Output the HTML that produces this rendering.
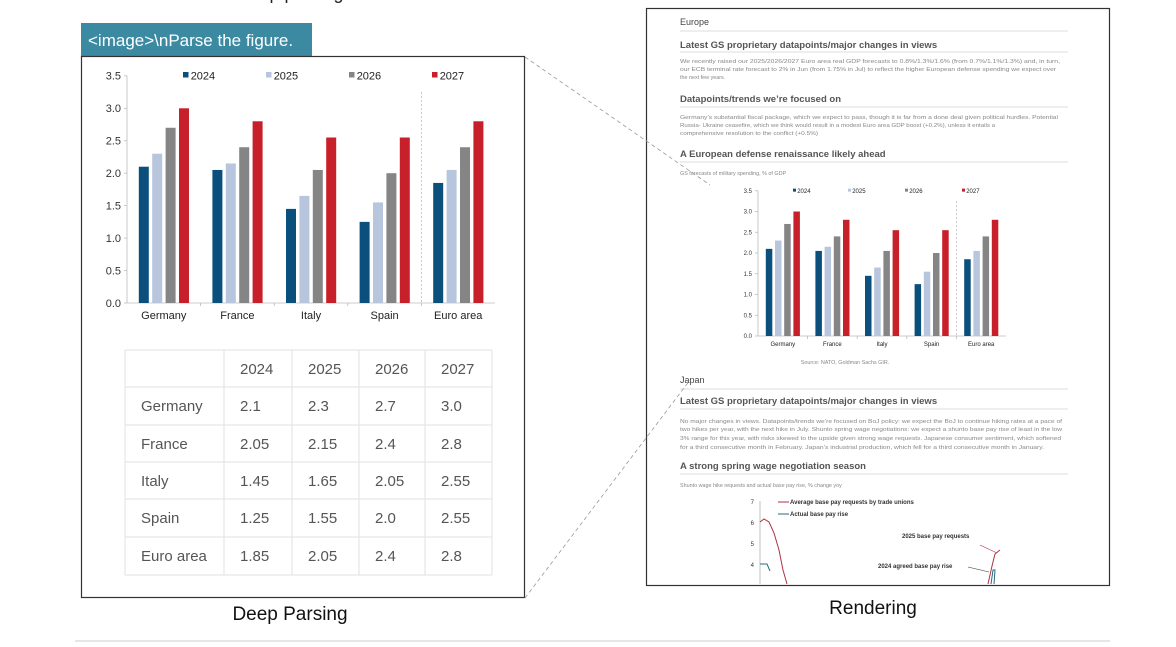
<!DOCTYPE html>
<html><head><meta charset="utf-8"><style>
body{margin:0;width:1176px;height:642px;overflow:hidden;background:#fff;font-family:"Liberation Sans",sans-serif}
svg text{font-family:"Liberation Sans",sans-serif}
</style></head><body>
<svg id="s" width="1176" height="642" viewBox="0 0 1176 642" xmlns="http://www.w3.org/2000/svg">
<text x="290" y="-1" font-size="18" text-anchor="middle" fill="#222">Deep parsing</text>
<rect x="81" y="23" width="231" height="33" fill="#3b8aa2"/>
<text x="88" y="46" font-size="17" fill="#fff">&lt;image&gt;\nParse the figure.</text>
<rect x="81.5" y="56.5" width="443" height="541" fill="#fff" stroke="#333" stroke-width="1.2"/>
<g id="lc"></g>
<g id="tbl" font-size="15" fill="#555"></g>
<text x="290" y="620" font-size="19" text-anchor="middle" fill="#111">Deep Parsing</text>
<rect x="646.5" y="8.5" width="463" height="577" fill="#fff" stroke="#333" stroke-width="1.2"/>
<g fill="#444">
<text x="680" y="25" font-size="9">Europe</text>
<line x1="680" y1="31" x2="1068" y2="31" stroke="#ddd"/>
<text x="680" y="48" font-size="9.5" font-weight="bold" fill="#555">Latest GS proprietary datapoints/major changes in views</text>
<line x1="680" y1="52" x2="1068" y2="52" stroke="#ddd"/>
<g font-size="5.4" fill="#888">
<text x="680" y="63" textLength="380" lengthAdjust="spacingAndGlyphs">We recently raised our 2025/2026/2027 Euro area real GDP forecasts to 0.8%/1.3%/1.6% (from 0.7%/1.1%/1.3%) and, in turn,</text>
<text x="680" y="71" textLength="376" lengthAdjust="spacingAndGlyphs">our ECB terminal rate forecast to 2% in Jun (from 1.75% in Jul) to reflect the higher European defense spending we expect over</text>
<text x="680" y="79">the next few years.</text>
</g>
<text x="680" y="102" font-size="9.5" font-weight="bold" fill="#555">Datapoints/trends we’re focused on</text>
<line x1="680" y1="107" x2="1068" y2="107" stroke="#ddd"/>
<g font-size="5.4" fill="#888">
<text x="680" y="119" textLength="378" lengthAdjust="spacingAndGlyphs">Germany’s substantial fiscal package, which we expect to pass, though it is far from a done deal given political hurdles. Potential</text>
<text x="680" y="127" textLength="315" lengthAdjust="spacingAndGlyphs">Russia- Ukraine ceasefire, which we think would result in a modest Euro area GDP boost (+0.2%), unless it entails a</text>
<text x="680" y="135" textLength="138" lengthAdjust="spacingAndGlyphs">comprehensive resolution to the conflict (+0.5%)</text>
</g>
<text x="680" y="157" font-size="9.5" font-weight="bold" fill="#555">A European defense renaissance likely ahead</text>
<line x1="680" y1="162" x2="1068" y2="162" stroke="#ddd"/>
<text x="680" y="175" font-size="5.4" fill="#888">GS forecasts of military spending, % of GDP</text>
<g id="rc"></g>
<text x="845" y="364" font-size="5.4" fill="#888" text-anchor="middle">Source: NATO, Goldman Sachs GIR.</text>
<text x="680" y="383" font-size="9">Japan</text>
<line x1="680" y1="389" x2="1068" y2="389" stroke="#ddd"/>
<text x="680" y="404" font-size="9.5" font-weight="bold" fill="#555">Latest GS proprietary datapoints/major changes in views</text>
<line x1="680" y1="409" x2="1068" y2="409" stroke="#ddd"/>
<g font-size="5.4" fill="#888">
<text x="680" y="423" textLength="382" lengthAdjust="spacingAndGlyphs">No major changes in views. Datapoints/trends we’re focused on BoJ policy: we expect the BoJ to continue hiking rates at a pace of</text>
<text x="680" y="431" textLength="382" lengthAdjust="spacingAndGlyphs">two hikes per year, with the next hike in July. Shunto spring wage negotiations: we expect a shunto base pay rise of least in the low</text>
<text x="680" y="440" textLength="381" lengthAdjust="spacingAndGlyphs">3% range for this year, with risks skewed to the upside given strong wage requests. Japanese consumer sentiment, which softened</text>
<text x="680" y="449" textLength="364" lengthAdjust="spacingAndGlyphs">for a third consecutive month in February. Japan’s industrial production, which fell for a third consecutive month in January.</text>
</g>
<text x="680" y="469" font-size="9.5" font-weight="bold" fill="#555">A strong spring wage negotiation season</text>
<line x1="680" y1="474" x2="1068" y2="474" stroke="#ddd"/>
<text x="680" y="487" font-size="5.4" fill="#888">Shunto wage hike requests and actual base pay rise, % change yoy</text>
<g font-size="6" fill="#333">
<text x="754" y="504" text-anchor="end">7</text><text x="754" y="525" text-anchor="end">6</text>
<text x="754" y="546" text-anchor="end">5</text><text x="754" y="567" text-anchor="end">4</text>
<line x1="760" y1="501" x2="760" y2="584" stroke="#999" stroke-width="0.6"/>
<line x1="778" y1="502" x2="789" y2="502" stroke="#b03040"/><text x="790" y="504" font-weight="bold">Average base pay requests by trade unions</text>
<line x1="778" y1="514" x2="789" y2="514" stroke="#2a6a80"/><text x="790" y="516" font-weight="bold">Actual base pay rise</text>
<text x="902" y="538" font-weight="bold">2025 base pay requests</text>
<text x="878" y="568" font-weight="bold">2024 agreed base pay rise</text>
<line x1="980" y1="545" x2="997" y2="553" stroke="#b03040" stroke-width="0.6"/>
<line x1="968" y1="567" x2="989" y2="572" stroke="#333" stroke-width="0.6"/>
</g>
<polyline points="760,522 764,519 769,522 774,533 779,550 783,570 787,584" fill="none" stroke="#b03040" stroke-width="1"/>
<polyline points="760,564 767,564 770,571" fill="none" stroke="#2a6a80" stroke-width="1"/>
<polyline points="988,584 992,566 995,554 1000,550" fill="none" stroke="#b03040" stroke-width="1"/>
<polyline points="991,584 993,570 995,570 994,584" fill="none" stroke="#2a6a80" stroke-width="1"/>
</g>
<text x="873" y="614" font-size="19" text-anchor="middle" fill="#111">Rendering</text>
<line x1="525" y1="57" x2="710" y2="185" stroke="#999" stroke-dasharray="4,3" stroke-width="0.8"/>
<line x1="525" y1="598" x2="690" y2="380" stroke="#999" stroke-dasharray="4,3" stroke-width="0.8"/>
<line x1="75" y1="641" x2="1110" y2="641" stroke="#e6e6e6" stroke-width="2"/>
</svg>
<script>
var NS="http://www.w3.org/2000/svg";
function el(p,t,a,txt){var e=document.createElementNS(NS,t);for(var k in a)e.setAttribute(k,a[k]);if(txt!=null)e.textContent=txt;p.appendChild(e);return e;}
var data=[[2.1,2.3,2.7,3.0],[2.05,2.15,2.4,2.8],[1.45,1.65,2.05,2.55],[1.25,1.55,2.0,2.55],[1.85,2.05,2.4,2.8]];
var names=["Germany","France","Italy","Spain","Euro area"];
var cols=["#0b4f7c","#b7c6dc","#858585","#c8202a"];
function chart(g,o){
 var y=function(v){return o.y0-v*o.sc;};
 for(var i=0;i<=7;i++){var v=i*0.5;el(g,"text",{x:o.ax-6,y:y(v)+o.fs*0.35,"font-size":o.fs,"text-anchor":"end",fill:"#333"},v.toFixed(1));
  el(g,"line",{x1:o.ax-3,x2:o.ax,y1:y(v),y2:y(v),stroke:"#bbb","stroke-width":0.8});}
 el(g,"line",{x1:o.ax,x2:o.ax,y1:y(3.5),y2:o.y0,stroke:"#bbb","stroke-width":0.8});
 el(g,"line",{x1:o.ax,x2:o.ax+5*o.cw,y1:o.y0,y2:o.y0,stroke:"#bbb","stroke-width":0.8});
 el(g,"line",{x1:o.ax+4*o.cw,x2:o.ax+4*o.cw,y1:y(3.25),y2:o.y0,stroke:"#bbb","stroke-width":0.8,"stroke-dasharray":"2,2"});
 for(var c=0;c<5;c++){var cx=o.ax+(c+0.5)*o.cw;
  for(var s=0;s<4;s++){el(g,"rect",{x:cx-o.half+s*o.step,y:y(data[c][s]),width:o.bw,height:data[c][s]*o.sc,fill:cols[s]});}
  el(g,"text",{x:cx,y:o.y0+o.fs+o.lg,"font-size":o.fs,"text-anchor":"middle",fill:"#222"},names[c]);
  if(c>0)el(g,"line",{x1:o.ax+c*o.cw,x2:o.ax+c*o.cw,y1:o.y0,y2:o.y0+3,stroke:"#bbb","stroke-width":0.8});}
 for(var s=0;s<4;s++){var lx=o.lx[s];el(g,"rect",{x:lx,y:y(3.5)-o.fs*0.35,width:o.fs*0.5,height:o.fs*0.5,fill:cols[s]});
  el(g,"text",{x:lx+o.fs*0.7,y:y(3.5)+o.fs*0.35,"font-size":o.fs,fill:"#222"},String(2024+s));}
}
chart(document.getElementById("lc"),{ax:127,y0:303,sc:64.9,cw:73.6,half:25,step:13.4,bw:10,fs:11,lg:5,lx:[183,266,349,432]});
chart(document.getElementById("rc"),{ax:758,y0:336,sc:41.5,cw:49.6,half:17,step:9.2,bw:6.5,fs:6,lg:4,lx:[793,848,905,962]});
var t=document.getElementById("tbl");
var xs=[125,224,292,359,425,492],ys=[350,387,425,462,499,537,575];
for(var i=0;i<xs.length;i++)el(t,"line",{x1:xs[i],x2:xs[i],y1:350,y2:575,stroke:"#e2e2e2"});
for(var i=0;i<ys.length;i++)el(t,"line",{x1:125,x2:492,y1:ys[i],y2:ys[i],stroke:"#e2e2e2"});
var rows=[["","2024","2025","2026","2027"],["Germany","2.1","2.3","2.7","3.0"],["France","2.05","2.15","2.4","2.8"],["Italy","1.45","1.65","2.05","2.55"],["Spain","1.25","1.55","2.0","2.55"],["Euro area","1.85","2.05","2.4","2.8"]];
for(var r=0;r<6;r++)for(var c=0;c<5;c++){el(t,"text",{x:(c==0?141:xs[c]+16),y:ys[r]+24,fill:"#555"},rows[r][c]);}
</script>
</body></html>
